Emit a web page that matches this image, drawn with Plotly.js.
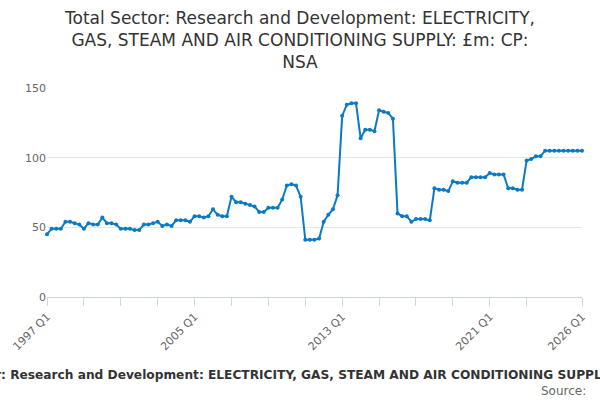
<!DOCTYPE html>
<html>
<head>
<meta charset="utf-8">
<script src="https://cdn.plot.ly/plotly-3.0.1.min.js"></script>
<style>
  html, body { margin: 0; padding: 0; background: #fff; }
  #plot { width: 600px; height: 400px; }
</style>
</head>
<body>
<div id="plot"></div>
<script>
// quarterly labels 1997 Q1 .. 2026 Q1
var quarters = [];
for (var yr = 1997; yr <= 2026; yr++) {
  for (var q = 1; q <= 4; q++) {
    if (yr === 2026 && q > 1) break;
    quarters.push(yr + " Q" + q);
  }
}

// £m
var values = [
  45, 49, 49, 49, 54, 54, 53, 52, 49, 53, 52, 52, 57, 53, 53, 52, 49, 49, 49, 48,
  48, 52, 52, 53, 54, 51, 52, 51, 55, 55, 55, 54, 58, 58, 57, 58, 63, 59, 58, 58,
  72, 68, 68, 67, 66, 65, 61, 61, 64, 64, 64, 70, 80, 81, 80, 72, 41, 41, 41, 42,
  54, 59, 63, 73, 130, 138, 139, 139, 114, 120, 120, 119, 134, 133, 132, 128,
  60, 58, 58, 54, 56, 56, 56, 55, 78, 77, 77, 76, 83, 82, 82, 82, 86, 86, 86, 86,
  89, 88, 88, 88, 78, 78, 77, 77, 98, 99, 101, 101,
  105, 105, 105, 105, 105, 105, 105, 105, 105
];

var tickQuarters = ["1997 Q1", "1999 Q1", "2001 Q1", "2003 Q1", "2005 Q1", "2007 Q1",
  "2009 Q1", "2011 Q1", "2013 Q1", "2015 Q1", "2017 Q1", "2019 Q1", "2021 Q1",
  "2023 Q1", "2026 Q1"];
var tickLabels = ["1997 Q1", "", "", "", "2005 Q1", "", "", "", "2013 Q1", "", "",
  "", "2021 Q1", "", "2026 Q1"];

var fullTitle = "Total Sector: Research and Development: ELECTRICITY, GAS, STEAM AND AIR CONDITIONING SUPPLY: £m: CP: NSA";

var trace = {
  x: quarters,
  y: values,
  type: "scatter",
  mode: "lines+markers",
  line: {color: "#0a7bc2", width: 2},
  marker: {color: "#0a7bc2", size: 4},
  cliponaxis: false,
  hoverinfo: "x+y"
};

var layout = {
  width: 600,
  height: 400,
  margin: {l: 47, r: 18, t: 88, b: 103},
  paper_bgcolor: "#fff",
  plot_bgcolor: "#fff",
  font: {family: "DejaVu Sans, sans-serif", color: "#666666"},
  showlegend: false,
  title: {
    text: "Total Sector: Research and Development: ELECTRICITY,<br>GAS, STEAM AND AIR CONDITIONING SUPPLY: £m: CP:<br>NSA",
    font: {size: 17, color: "#333333"},
    x: 0.5, xanchor: "center",
    yref: "container",
    y: 0.94, yanchor: "top"
  },
  xaxis: {
    type: "category",
    range: [0, 116],
    tickmode: "array",
    tickvals: tickQuarters,
    ticktext: tickLabels,
    tickangle: -45,
    ticks: "outside",
    ticklen: 8,
    tickcolor: "#ccd6eb",
    showline: true,
    linecolor: "#ccd6eb",
    showgrid: false,
    zeroline: false,
    tickfont: {size: 11, color: "#666666"}
  },
  yaxis: {
    range: [0, 150],
    tickvals: [0, 50, 100, 150],
    showgrid: true,
    gridcolor: "#e6e6e6",
    zeroline: false,
    showline: false,
    ticks: "",
    tickfont: {size: 11, color: "#666666"}
  },
  annotations: [
    {
      text: "<b>" + fullTitle + "</b>",
      xref: "paper", yref: "paper",
      x: 0.494, y: -0.373, xanchor: "center", yanchor: "middle",
      showarrow: false,
      font: {size: 12.2, color: "#333333", family: "DejaVu Sans, sans-serif"}
    },
    {
      text: "Source:",
      xref: "paper", yref: "paper",
      x: 1.011, y: -0.45, xanchor: "right", yanchor: "middle",
      showarrow: false,
      font: {size: 12, color: "#666666"}
    }
  ]
};

Plotly.newPlot("plot", [trace], layout, {displayModeBar: false, staticPlot: true});
</script>
</body>
</html>
